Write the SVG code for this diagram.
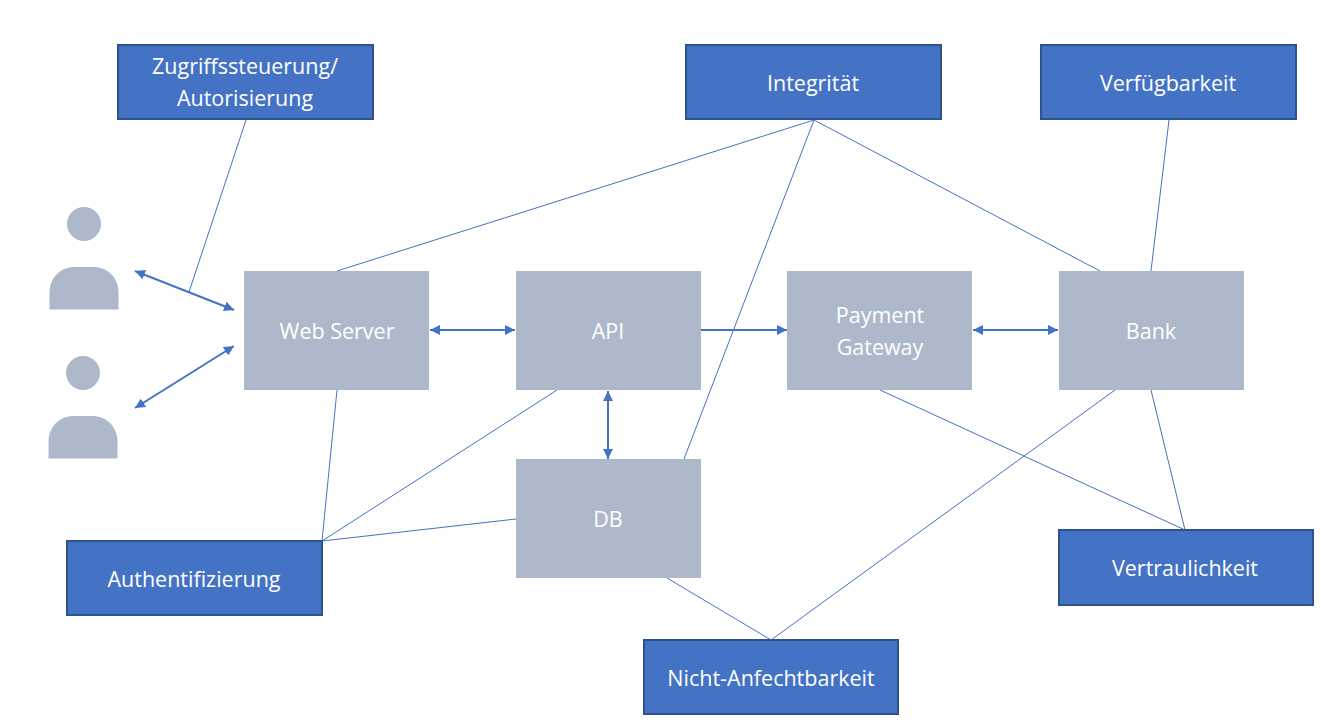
<svg xmlns="http://www.w3.org/2000/svg" width="1321" height="727" viewBox="0 0 1321 727">
<style>
text{font-family:"Open Sans","Noto Sans","Liberation Sans",sans-serif;font-size:21.5px;fill:#fff;text-anchor:middle}
.b{fill:#4472c4;stroke:#2f528f;stroke-width:2}
.g{fill:#adb9ca}
.l{fill:none;stroke:#4472c4;stroke-width:1}
.a{fill:none;stroke:#4472c4;stroke-width:2;marker-start:url(#s);marker-end:url(#e)}
.o{fill:none;stroke:#4472c4;stroke-width:2;marker-end:url(#e)}
</style>
<defs>
<marker id="e" markerUnits="userSpaceOnUse" markerWidth="10" markerHeight="10" refX="10" refY="5" orient="auto"><path d="M0 0L10 5L0 10Z" fill="#4472c4"/></marker>
<marker id="s" markerUnits="userSpaceOnUse" markerWidth="10" markerHeight="10" refX="0" refY="5" orient="auto"><path d="M10 0L0 5L10 10Z" fill="#4472c4"/></marker>
<g id="person"><circle cx="0" cy="0" r="17"/><path d="M-34.500 85.500V69C-34.500 53 -23 43 -9 43H9C23 43 34.500 53 34.500 69V85.500Z" transform="translate(0 0)"/></g>
</defs>
<rect width="1321" height="727" fill="#fff"/>
<g id="connectors">
<path class="l" d="M246 120L189 292"/>
<path class="l" d="M814 120L337 271"/>
<path class="l" d="M814 120L684 459"/>
<path class="l" d="M814 120L1100 271"/>
<path class="l" d="M1169 120L1151 271"/>
<path class="l" d="M337 390L322 541"/>
<path class="l" d="M557 390L322 541"/>
<path class="l" d="M516 519L322 541"/>
<path class="l" d="M880 390L1185 530"/>
<path class="l" d="M1151 390L1185 530"/>
<path class="l" d="M1115 390L771 640"/>
<path class="l" d="M667 578L771 640"/>
<path class="a" d="M135 271L234 310"/>
<path class="a" d="M135 408L234 346"/>
<path class="a" d="M430 330H515"/>
<path class="o" d="M701 330H787"/>
<path class="a" d="M973 330H1058"/>
<path class="a" d="M608 391V459"/>
</g>
<g id="user1" class="g"><use href="#person" x="84" y="224"/></g>
<g id="user2" class="g"><use href="#person" x="83" y="373"/></g>
<g id="webserver"><rect class="g" x="244" y="271" width="185" height="119"/><text x="337" y="339">Web Server</text></g>
<g id="api"><rect class="g" x="516" y="271" width="185" height="119"/><text x="608" y="339">API</text></g>
<g id="gateway"><rect class="g" x="787" y="271" width="185" height="119"/><text x="880" y="323">Payment</text><text x="880" y="355">Gateway</text></g>
<g id="bank"><rect class="g" x="1059" y="271" width="185" height="119"/><text x="1151" y="339">Bank</text></g>
<g id="db"><rect class="g" x="516" y="459" width="185" height="119"/><text x="608" y="527">DB</text></g>
<g id="zugriff"><rect class="b" x="118" y="45" width="255" height="74"/><text x="245" y="74">Zugriffssteuerung/</text><text x="245" y="106">Autorisierung</text></g>
<g id="integritaet"><rect class="b" x="686" y="45" width="255" height="74"/><text x="813" y="91">Integrität</text></g>
<g id="verfuegbarkeit"><rect class="b" x="1041" y="45" width="255" height="74"/><text x="1168" y="91">Verfügbarkeit</text></g>
<g id="authentifizierung"><rect class="b" x="67" y="541" width="255" height="74"/><text x="194" y="587">Authentifizierung</text></g>
<g id="vertraulichkeit"><rect class="b" x="1059" y="530" width="254" height="75"/><text x="1185" y="576">Vertraulichkeit</text></g>
<g id="nichtanfechtbarkeit"><rect class="b" x="644" y="640" width="254" height="74"/><text x="771" y="686">Nicht-Anfechtbarkeit</text></g>
</svg>
